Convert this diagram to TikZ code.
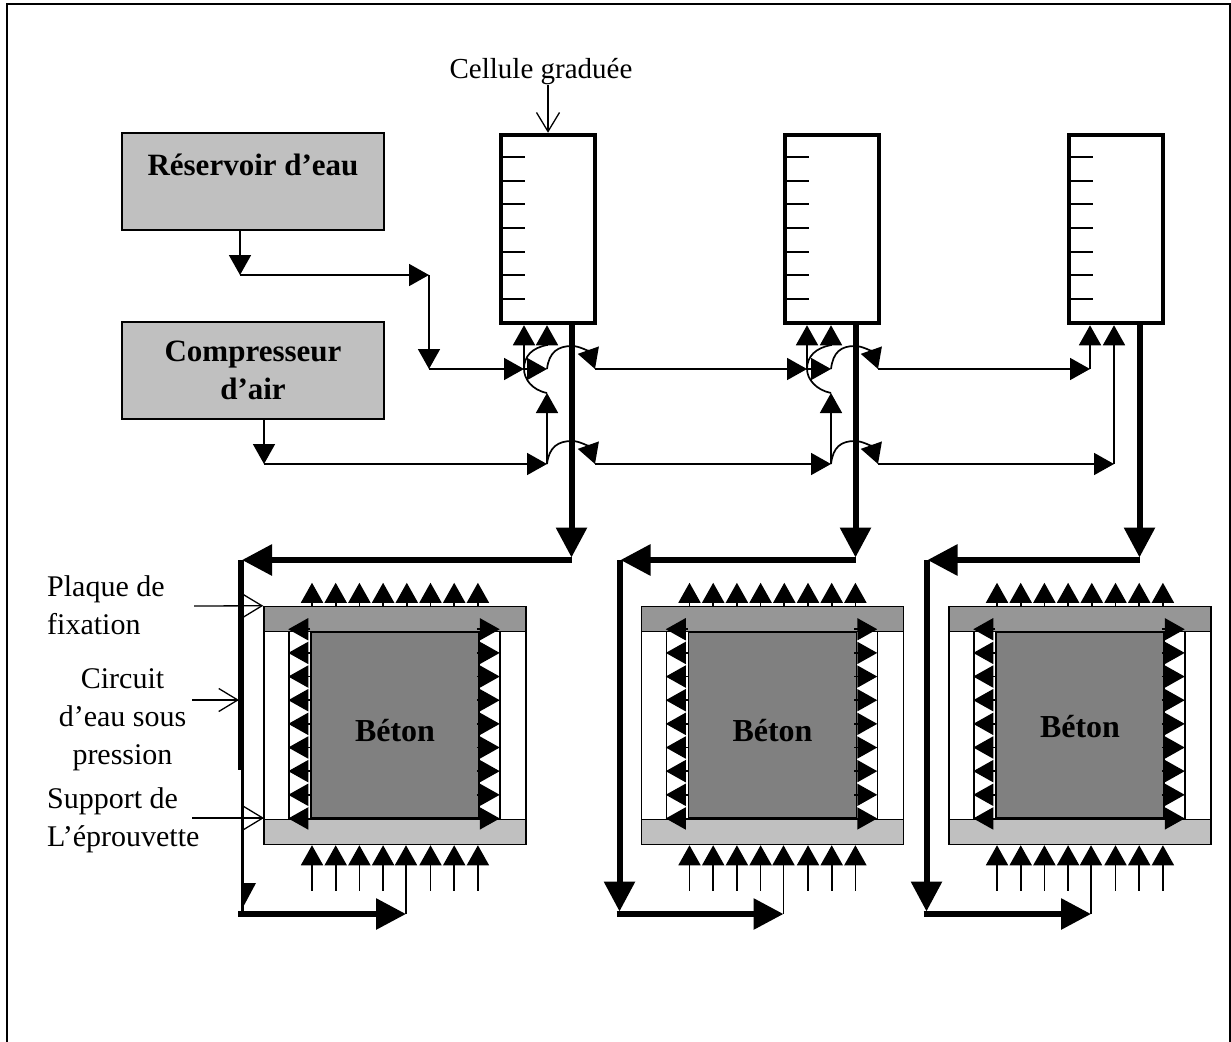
\documentclass[tikz,border=0pt]{standalone}
\usepackage{fontspec}
\setmainfont{Liberation Serif}
\usetikzlibrary{arrows.meta}
\definecolor{cuve}{HTML}{C0C0C0}
\definecolor{plaque}{HTML}{969696}
\definecolor{beton}{HTML}{808080}
\tikzset{
  tank/.style={draw=black,line width=1.5pt,fill=cuve,minimum width=262pt,minimum height=97pt,inner sep=0pt,
               align=center,font=\fontsize{31}{38}\selectfont\bfseries},
  cell/.style={draw=black,line width=4.5pt,fill=white,minimum width=94pt,minimum height=188pt,inner sep=0pt},
  slab/.style={draw=black,line width=1.5pt,fill=#1,minimum width=262pt,minimum height=25pt,inner sep=0pt},
  hole/.style={draw=black,line width=1.5pt,fill=white,minimum height=190pt,inner sep=0pt},
  core/.style={draw=black,line width=1.5pt,fill=beton,minimum width=168pt,minimum height=186pt,inner sep=0pt},
  pipe/.style={-{Triangle[length=20pt,width=22pt]},line width=1.7pt},
  rpipe/.style={{Triangle[length=20pt,width=22pt]}-,line width=1.7pt},
  main/.style={-{Triangle[length=30pt,width=30pt]},line width=6pt},
  ptr/.style={-{Straight Barb[length=19pt,width=23pt]},line width=1.3pt},
  lbl/.style={font=\fontsize{30}{38}\selectfont,align=left,inner sep=0pt},
  blbl/.style={font=\fontsize{32}{38}\selectfont\bfseries,inner sep=0pt},
}
\begin{document}
\begin{tikzpicture}[x=1pt,y=-1pt]
  \useasboundingbox (0,0) rectangle (1231,1041);
  \draw[line width=2pt] (7,4) rectangle (1230,1050);

  % sources
  \node[tank] (res) at (253,181.5) {Réservoir d’eau\\[-4pt]~};
  \node[tank] (comp) at (253,370.5) {Compresseur\\d’air};

  % graduated cells
  \foreach \n/\xa in {1/0,2/284,3/568}{
    \node[cell] (cell\n) at (548+\xa,229) {};
    \foreach \y in {157,181,204,228,252,275,299}
      \draw[line width=1.5pt] (500+\xa,\y) -- ++(25,0);
  }

  % junctions on the two supply lines
  \coordinate (a) at (240,275);  \coordinate (b) at (429,275);  \coordinate (c) at (429,369);
  \coordinate (d) at (264,464);
  \coordinate (e1) at (524,369); \coordinate (f1) at (547,369); \coordinate (g1) at (595,369);
  \coordinate (e2) at (807,369); \coordinate (f2) at (831,369); \coordinate (g2) at (878,369);
  \coordinate (e3) at (1090,369);
  \coordinate (h1) at (547,464); \coordinate (k1) at (595,464);
  \coordinate (h2) at (831,464); \coordinate (k2) at (878,464);
  \coordinate (h3) at (1114,464);

  \draw[pipe] ([xshift=-13pt]res.south) -- (a);
  \draw[pipe] (a) -- (b);
  \draw[pipe] (b) -- (c);
  \draw[pipe] (c) -- (e1);
  \draw[pipe] ([xshift=11pt]comp.south) -- (d);
  \draw[pipe] (d) -- (h1);
  \draw[pipe] (g1) -- (e2);
  \draw[pipe] (g2) -- (e3);
  \draw[pipe] (k1) -- (h2);
  \draw[pipe] (k2) -- (h3);
  \draw[pipe] (e3) -- (e3 |- cell3.south);
  \draw[pipe] (h3) -- (h3 |- cell3.south);

  % bridges over the outlet
  \foreach \n/\m/\p in {1/572/0,2/855/284}{
    \coordinate (r\n) at (547+\p,393);
    \coordinate (s\n) at (547+\p,345);
    \coordinate (mw\n) at (\m,346);
    \coordinate (ma\n) at (\m,441);
    \draw[pipe] (e\n) -- (e\n |- cell\n.south);
    \draw[pipe] (e\n) -- (f\n);
    \draw[pipe] (h\n) -- (r\n);
    \draw[line width=1.7pt] (r\n) .. controls +(-15,-3) and +(0,10) .. (e\n) .. controls +(0,-13) and +(-15,3) .. (s\n);
    \draw[pipe] (s\n) -- (s\n |- cell\n.south);
    \draw[pipe] (f\n) .. controls +(2,-17) and +(-14,0) .. (mw\n) .. controls +(8,0) and +(-6,-17) .. (g\n);
    \draw[pipe] (h\n) .. controls +(2,-17) and +(-14,0) .. (ma\n) .. controls +(8,0) and +(-6,-17) .. (k\n);
  }

  % specimens
  \foreach \n/\xs/\xo/\xl/\yb in {1/0/571.5/241/731,2/377.5/855.5/619.5/731,3/685/1139.5/926.5/727}{
    \node[hole,minimum width=262pt] (hole\n) at (395+\xs,726) {};
    \node[hole,minimum width=211pt] (lane\n) at (394.5+\xs,726) {};
    \node[slab=plaque] (top\n) at (395+\xs,619) {};
    \node[slab=cuve] (bot\n) at (395+\xs,832) {};
    \node[core] (core\n) at (395+\xs,725) {};
    \node[blbl] (lab\n) at (395+\xs,\yb) {Béton};
    \foreach \k in {0,...,7}
      \draw[pipe] ([xshift=\k*23.7pt-83pt]top\n.north) -- ++(0,-23);
    \foreach \k in {0,1,2,3,5,6,7}
      \draw[rpipe] ([xshift=\k*23.7pt-83pt]bot\n.south) -- ++(0,46);
    \foreach \k in {0,...,8}{
      \draw[pipe] ([yshift=2pt-\k*23.65pt]core\n.north west) -- ++(-22,0);
      \draw[pipe] ([xshift=-3pt,yshift=2pt-\k*23.65pt]core\n.north east) -- ++(23,0);
    }
    % water return
    \coordinate (o\n) at (\xo,557.5);
    \coordinate (t\n) at (\xo,560);
    \coordinate (l\n) at (\xl,560);
    \coordinate (v\n) at (\xl,911.5);
    \coordinate (w\n) at (\xl-3,914);
    \coordinate (z\n) at (406+\xs,914);
    \draw[main] ([xshift=23.5pt]cell\n.south) -- (o\n);
    \draw[main] (t\n) -- ([xshift=1pt]l\n);
    \draw[main] (w\n) -- (z\n);
    \draw[pipe] (z\n) -- (z\n |- bot\n.south);
  }
  \draw[main] (l2) -- (v2);
  \draw[main] (l3) -- (v3);
  % the first return is narrower below the plate
  \coordinate (n1) at (241,770);
  \draw[line width=6pt] (l1) -- (n1);
  \draw[line width=3.5pt] (242.4,770) -- (242.4,914);
  \fill (241,883) -- (256,883) -- (241,911) -- cycle;

  % labels
  \node[lbl,anchor=north,font=\fontsize{29}{38}\selectfont] (cellule) at (541,58) {Cellule graduée};
  \node[lbl,anchor=north west] (fix) at (47,575) {Plaque de\\fixation};
  \node[lbl,anchor=north,align=center] (circ) at (122.5,668) {Circuit\\d’eau sous\\pression};
  \node[lbl,anchor=north west] (supp) at (47,787) {Support de\\L’éprouvette};
  \coordinate (g0) at (548,85);
  \coordinate (p0) at (194,606);
  \coordinate (q0) at (192,700);
  \coordinate (q1) at (239,700);
  \coordinate (u0) at (192,818);
  \coordinate (u1) at (264,818);
  \draw[ptr] (g0) -- (cell1.north);
  \draw[ptr] (p0) -- (top1.north west);
  \draw[ptr] (q0) -- (q1);
  \draw[ptr] (u0) -- (u1);
\end{tikzpicture}
\end{document}
